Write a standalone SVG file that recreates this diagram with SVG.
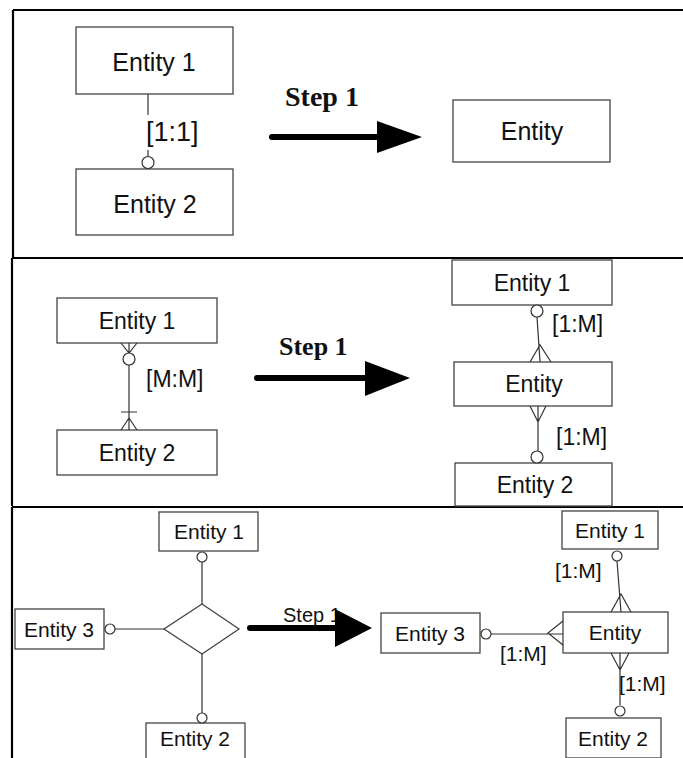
<svg xmlns="http://www.w3.org/2000/svg" width="683" height="758" viewBox="0 0 683 758">
<style>
.box{fill:#fff;stroke:#444;stroke-width:1.3}
.ln{fill:none;stroke:#333;stroke-width:1.2}
.o{fill:#fff;stroke:#333;stroke-width:1.2}
.frame{fill:none;stroke:#000;stroke-width:2.2}
.t{font-family:"Liberation Sans",Arial,sans-serif;fill:#111;text-anchor:middle}
.lbl{font-family:"Liberation Sans",Arial,sans-serif;fill:#111}
.step{font-family:"Liberation Serif","Times New Roman",serif;font-weight:bold;fill:#111}
.arr{stroke:#000;stroke-width:6;stroke-linecap:round}
.s1{font-size:25px}.s2{font-size:23px}.s3{font-size:21px}
</style>
<rect width="683" height="758" fill="#fff"/>
<g id="frames">
<path class="frame" d="M13,10H683M13,10V258M12,258H683M12,258V506M12,507H683M12,507V758"/>
</g>
<!-- Panel 1 -->
<g id="p1-e1"><rect class="box" x="76" y="27" width="157" height="67"/><text class="t s1" x="154" y="71">Entity 1</text></g>
<g id="p1-e2"><rect class="box" x="76" y="169" width="157" height="66"/><text class="t s1" x="155" y="213">Entity 2</text></g>
<g id="p1-entity"><rect class="box" x="453" y="100" width="157" height="62"/><text class="t s1" x="532" y="140">Entity</text></g>
<!-- Panel 2 -->
<g id="p2-e1"><rect class="box" x="57" y="298" width="160" height="45"/><text class="t s2" x="137" y="329">Entity 1</text></g>
<g id="p2-e2"><rect class="box" x="57" y="430" width="160" height="45"/><text class="t s2" x="137" y="461">Entity 2</text></g>
<g id="p2r-e1"><rect class="box" x="452" y="260" width="160" height="45"/><text class="t s2" x="532" y="291">Entity 1</text></g>
<g id="p2r-entity"><rect class="box" x="454" y="362" width="158" height="44"/><text class="t s2" x="534" y="392">Entity</text></g>
<g id="p2r-e2"><rect class="box" x="455" y="463" width="157" height="43"/><text class="t s2" x="535" y="493">Entity 2</text></g>
<!-- Panel 3 -->
<g id="p3-e1"><rect class="box" x="159" y="512" width="99" height="39"/><text class="t s3" x="209" y="538.5">Entity 1</text></g>
<g id="p3-e2"><rect class="box" x="146" y="723" width="99" height="40"/><text class="t s3" x="195" y="746">Entity 2</text></g>
<g id="p3-e3"><rect class="box" x="15" y="609" width="89" height="40"/><text class="t s3" x="59" y="636.5">Entity 3</text></g>
<g id="p3-rel"><polygon class="box" points="202,604 239,629 202,654 164,629"/></g>
<g id="p3r-e3"><rect class="box" x="381" y="613" width="99" height="40"/><text class="t s3" x="430" y="640.5">Entity 3</text></g>
<g id="p3r-entity"><rect class="box" x="563" y="612" width="105" height="41"/><text class="t s3" x="615" y="640">Entity</text></g>
<g id="p3r-e1"><rect class="box" x="562" y="511" width="96" height="38"/><text class="t s3" x="610" y="537.5">Entity 1</text></g>
<g id="p3r-e2"><rect class="box" x="566" y="718" width="95" height="40"/><text class="t s3" x="613" y="745.5">Entity 2</text></g>
<g id="connectors">
<!-- panel 1 -->
<path class="ln" d="M148,94V115M148,150V156"/>
<circle class="o" cx="148" cy="162.5" r="6"/>
<text class="lbl" x="146" y="141" font-size="27">[1:1]</text>
<text class="step" x="285" y="106" font-size="28">Step 1</text>
<line class="arr" x1="272" y1="137" x2="378" y2="137"/>
<polygon points="377,121 422,137 377,153" fill="#000"/>
<!-- panel 2 left -->
<path class="ln" d="M121,343L129,353L137,343M129,343V353M129,365V430M121,412H137M121,430L129,418L137,430"/>
<circle class="o" cx="129" cy="359" r="6"/>
<text class="lbl s2" x="146" y="387">[M:M]</text>
<text class="step" x="279" y="355" font-size="26">Step 1</text>
<line class="arr" x1="257" y1="378" x2="367" y2="378"/>
<polygon points="365,361 410,378 365,396" fill="#000"/>
<!-- panel 2 right -->
<circle class="o" cx="537" cy="311" r="6"/>
<path class="ln" d="M537,317L540,362M530,362L540,345L551,362"/>
<text class="lbl s2" x="552" y="332">[1:M]</text>
<path class="ln" d="M530,406L538,422L546,406M538,406V451"/>
<circle class="o" cx="537" cy="457" r="6"/>
<text class="lbl s2" x="556" y="445">[1:M]</text>
<!-- panel 3 left -->
<circle class="o" cx="202" cy="557" r="5"/>
<path class="ln" d="M202,562V604M202,654V713M115,629H164"/>
<circle class="o" cx="202" cy="718" r="5"/>
<circle class="o" cx="110" cy="629" r="5"/>
<text class="lbl" x="283" y="622" font-size="20">Step 1</text>
<line class="arr" x1="250" y1="628" x2="337" y2="628"/>
<polygon points="335,609 372,628 335,647" fill="#000"/>
<!-- panel 3 right -->
<circle class="o" cx="486" cy="634" r="5"/>
<path class="ln" d="M491,634H563M563,621L548,633L563,645"/>
<text class="lbl s3" x="500" y="661">[1:M]</text>
<circle class="o" cx="617" cy="556" r="5"/>
<path class="ln" d="M617,561L621,612M611,612L621,594L631,612"/>
<text class="lbl s3" x="555" y="578">[1:M]</text>
<path class="ln" d="M611,653L620,670L629,653M620,653V705"/>
<circle class="o" cx="620" cy="711" r="5"/>
<text class="lbl s3" x="619" y="691">[1:M]</text>
</g>
</svg>
